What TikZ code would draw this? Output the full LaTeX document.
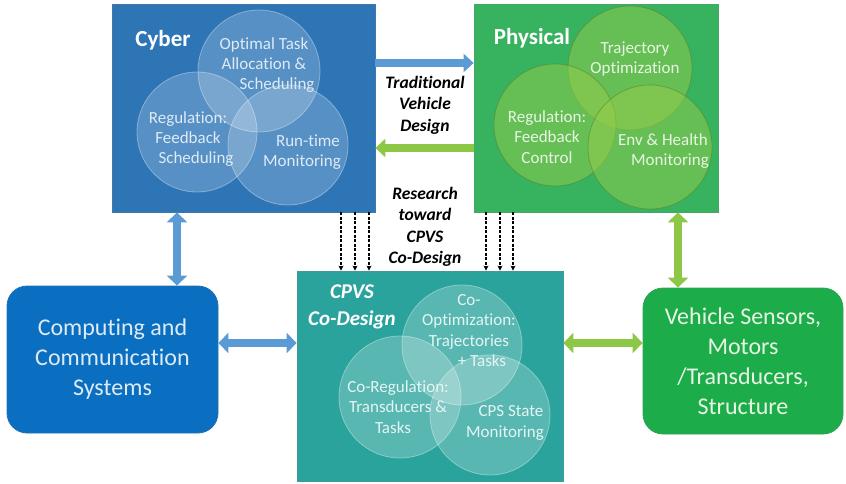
\documentclass[tikz,border=0pt]{standalone}
\usepackage{fontspec}
\setmainfont{Carlito}[Ligatures=NoCommon]
\usetikzlibrary{arrows.meta,calc}
\definecolor{cyberc}{RGB}{46,117,182}
\definecolor{physc}{RGB}{55,178,95}
\definecolor{cpvsc}{RGB}{43,163,157}
\definecolor{compc}{RGB}{10,111,192}
\definecolor{vehc}{RGB}{28,172,74}
\definecolor{barrow}{RGB}{91,155,213}
\definecolor{garrow}{RGB}{140,200,70}
\definecolor{vennp}{RGB}{150,205,75}
\definecolor{txtcy}{RGB}{222,234,246}
\definecolor{txtph}{RGB}{232,245,228}
\definecolor{txtcp}{RGB}{228,245,244}
\begin{document}
\begin{tikzpicture}[x=1pt,y=-1pt,
  box/.style={draw=#1!75!gray, fill=#1, line width=0.8pt, inner sep=0pt},
  rbox/.style={draw=#1!80!gray, fill=#1, line width=0.8pt, rounded corners=20pt, inner sep=0pt,
    align=center, text=txtcy, font=\fontsize{24}{30}\selectfont},
  title/.style={text=white, font=\fontsize{23}{26}\selectfont\bfseries, inner sep=0pt, align=center},
  vcy/.style={circle, draw=white, draw opacity=0.35, fill=white, fill opacity=0.2, line width=0.8pt, minimum size=#1, inner sep=0pt},
  vph/.style={circle, draw=vennp!60!black, draw opacity=0.5, fill=vennp, fill opacity=0.5, line width=0.8pt, minimum size=#1, inner sep=0pt},
  vcp/.style={circle, draw=white, draw opacity=0.35, fill=white, fill opacity=0.22, line width=0.8pt, minimum size=#1, inner sep=0pt},
  vtxt/.style={text=#1, font=\fontsize{17}{20.3}\selectfont, align=center, inner sep=0pt},
  midtxt/.style={font=\fontsize{17.5}{21.5}\selectfont\bfseries\itshape, align=center, inner sep=0pt},
  barr/.style={draw=barrow, line width=8pt, {Triangle[width=20pt,length=10pt]}-{Triangle[width=20pt,length=10pt]}},
  garr/.style={draw=garrow, line width=8pt, {Triangle[width=20pt,length=10pt]}-{Triangle[width=20pt,length=10pt]}},
  sbarr/.style={draw=barrow, line width=8pt, -{Triangle[width=18pt,length=10pt]}},
  sgarr/.style={draw=garrow, line width=8pt, -{Triangle[width=18pt,length=10pt]}},
  dasharr/.style={draw=black, line width=1.6pt, dash pattern=on 3pt off 1.5pt, -{Stealth[length=5pt,width=5pt]}}
]
\useasboundingbox (0,0) rectangle (846,484);

% main boxes
\node[box=cyberc, minimum width=263pt, minimum height=208pt] (cyber) at (243.5,108) {};
\node[box=physc, minimum width=244pt, minimum height=208pt] (phys) at (596,108) {};
\node[box=cpvsc, minimum width=266pt, minimum height=210pt] (cpvs) at (430,376) {};
\node[rbox=compc, minimum width=211pt, minimum height=147pt] (comp) at (112.5,359.5)
  {Computing and\\Communication\\Systems};
\node[rbox=vehc, minimum width=200pt, minimum height=146pt, text=txtph] (veh) at (743,361)
  {Vehicle Sensors,\\Motors\\/Transducers,\\Structure};

% cyber venn
\node[vcy=122pt] (cy1) at (259,71) {};
\node[vcy=120pt] (cy2) at (197,132) {};
\node[vcy=120pt] (cy3) at (288,145) {};
\node[title] (cyt) at (163,40) {Cyber};
\node[vtxt=txtcy] (cyt1) at (264,65) {Optimal Task\\Allocation \&\\\hspace*{26pt}Scheduling};
\node[vtxt=txtcy] (cyt2) at (188,139) {Regulation:\\Feedback\\\hspace*{16pt}Scheduling};
\node[vtxt=txtcy] (cyt3) at (302,152) {\hspace*{12pt}Run-time\\Monitoring};

% physical venn
\node[vph=124pt] (ph1) at (630,68) {};
\node[vph=122pt] (ph2) at (555,125) {};
\node[vph=124pt] (ph3) at (650,147) {};
\node[title] (pht) at (532,38) {Physical};
\node[vtxt=txtph] (pht1) at (635,59) {Trajectory\\Optimization};
\node[vtxt=txtph] (pht2) at (547,137) {Regulation:\\Feedback\\Control};
\node[vtxt=txtph] (pht3) at (663,151) {Env \& Health\\\hspace*{14pt}Monitoring};

% cpvs venn
\node[vcp=120pt] (cp1) at (462,345) {};
\node[vcp=122pt] (cp2) at (400,397) {};
\node[vcp=120pt] (cp3) at (490,415) {};
\node[title, font=\fontsize{21}{27}\selectfont\bfseries\itshape] (cpt) at (352,306.5) {CPVS\\Co-Design};
\node[vtxt=txtcp] (cpt1) at (469,330.5) {Co-\\Optimization:\\Trajectories\\\hspace*{26pt}+ Tasks};
\node[vtxt=txtcp] (cpt2) at (398,407) {Co-Regulation:\\Transducers \&\\Tasks\hspace*{10pt}};
\node[vtxt=txtcp] (cpt3) at (505,423) {\hspace*{12pt}CPS State\\Monitoring};

% middle texts
\node[midtxt] (trad) at (425,105) {Traditional\\Vehicle\\Design};
\node[midtxt] (res) at (425,227) {Research\\toward\\CPVS\\Co-Design};

% helper coordinates
\coordinate (ya) at (0,63);
\coordinate (yb) at (0,148);
\coordinate (xa) at (177,0);
\coordinate (xb) at (678,0);
\coordinate (yc) at (0,343);
\coordinate (d1) at (341,0);
\coordinate (d2) at (355,0);
\coordinate (d3) at (369,0);
\coordinate (d4) at (486,0);
\coordinate (d5) at (500,0);
\coordinate (d6) at (513,0);

% block arrows
\draw[sbarr] (cyber.east |- ya) -- (phys.west |- ya);
\draw[sgarr] (phys.west |- yb) -- (cyber.east |- yb);
\draw[barr] (cyber.south -| xa) -- (comp.north -| xa);
\draw[garr] (phys.south -| xb) -- (veh.north -| xb);
\draw[barr] (comp.east |- yc) -- (cpvs.west |- yc);
\draw[garr] (cpvs.east |- yc) -- (veh.west |- yc);

% dashed arrows
\foreach \d in {d1,d2,d3} \draw[dasharr] (cyber.south -| \d) -- (cpvs.north -| \d);
\foreach \d in {d4,d5,d6} \draw[dasharr] (phys.south -| \d) -- (cpvs.north -| \d);
\end{tikzpicture}
\end{document}
